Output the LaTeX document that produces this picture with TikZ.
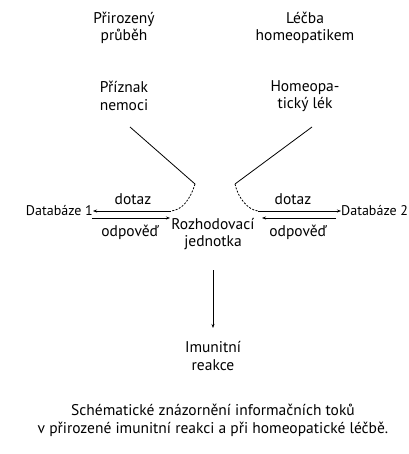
\documentclass[tikz,border=0pt]{standalone}
\usepackage{fontspec}
\setmainfont{PT Sans}
\usetikzlibrary{arrows.meta}
\begin{document}
\begin{tikzpicture}[x=1pt,y=-1pt,
  lbl/.style={font=\fontsize{15.5}{17.5}\selectfont, align=center, inner sep=0pt},
  dbl/.style={font=\fontsize{14}{16}\selectfont, inner sep=0pt},
  ln/.style={line width=0.8pt},
  arr/.style={ln, -{Stealth[length=4pt,width=3pt]}},
  dsh/.style={ln, dash pattern=on 2pt off 1.5pt}]
\useasboundingbox (0,0) rectangle (408,454);
\fill[white] (0,0) rectangle (408,454);
% headings
\node[lbl] (pp) at (124,28) {Přirozený\\průběh};
\node[lbl] (lh) at (305,28) {Léčba\\homeopatikem};
\node[lbl] (pn) at (124,96) {Příznak\\nemoci};
\node[lbl] (hl) at (305,96) {Homeopa-\\tický lék};
% databases
\node[dbl, anchor=east] (db1) at (93,211) {Databáze 1};
\node[dbl, anchor=west] (db2) at (341,211) {Databáze 2};
\node[lbl] (rj) at (213,234) {Rozhodovací\\jednotka};
\node[lbl] (ir) at (213,356) {Imunitní\\reakce};
% labels
\node[lbl] (d1) at (133,199) {dotaz};
\node[lbl] (d2) at (293,199) {dotaz};
\node[lbl] (o1) at (130,232) {odpověď};
\node[lbl] (o2) at (298,232) {odpověď};
% caption
\node[lbl, font=\fontsize{15.5}{18}\selectfont] (cap) at (213,420) {Schématické znázornění informačních toků\\v přirozené imunitní reakci a při homeopatické léčbě.};
% coordinates
\coordinate (l0) at (130,127);
\coordinate (l1) at (195,184);
\coordinate (l2) at (171,211);
\coordinate (r0) at (312,127);
\coordinate (r1) at (235,184);
\coordinate (r2) at (258,211);
\coordinate (la) at (92,218);
\coordinate (lb) at (170,218);
\coordinate (ra) at (336,218);
\coordinate (rb) at (262,218);
\coordinate (v0) at (213,270);
\coordinate (v1) at (213,328);
% left branch
\draw[ln] (l0) -- (l1);
\draw[dsh] (l1) .. controls (190,200) and (182,210) .. (l2);
\draw[arr] (l2) -- (db1.east);
% right branch
\draw[ln] (r0) -- (r1);
\draw[dsh] (r1) .. controls (238,198) and (248,210) .. (r2);
\draw[arr] (r2) -- (db2.west);
% responses
\draw[arr] (la) -- (lb);
\draw[arr] (ra) -- (rb);
% down
\draw[arr] (v0) -- (v1);
\end{tikzpicture}
\end{document}
